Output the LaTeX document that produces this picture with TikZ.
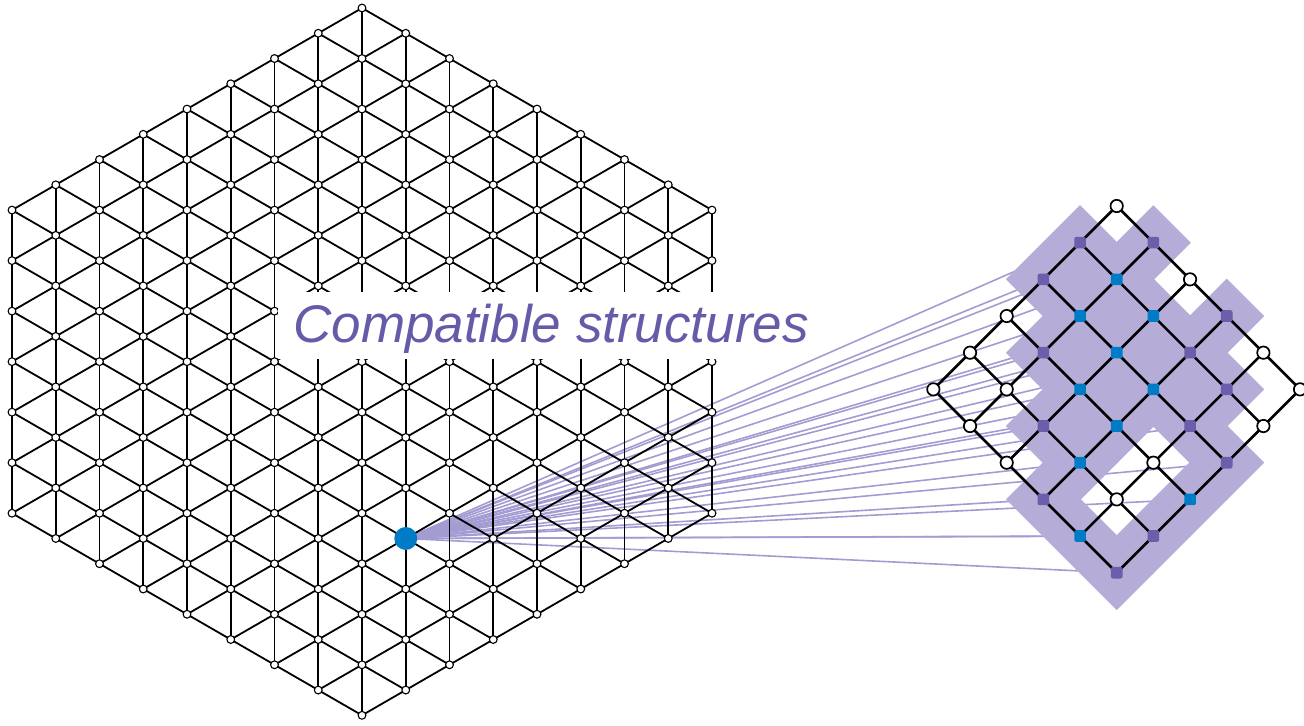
\documentclass[tikz,border=0pt]{standalone}
\usepackage{fontspec}
\setsansfont{Liberation Sans}
\usepackage{tikz}
\definecolor{lav}{RGB}{181,173,216}
\definecolor{fanline}{RGB}{163,156,211}
\definecolor{pur}{RGB}{108,94,170}
\definecolor{blu}{RGB}{0,124,198}
\definecolor{ink}{RGB}{100,92,168}

\begin{document}
\begin{tikzpicture}[
  x=0.5pt, y=-0.5pt,
  bond/.style={line width=0.9pt},
  site/.style={draw, circle, fill=white, inner sep=0pt,
               minimum size=3.9pt, line width=0.55pt},
  link/.style={line width=1.3pt},
  hole/.style={draw, circle, fill=white, inner sep=0pt,
               minimum size=6.2pt, line width=0.85pt},
  pursite/.style={rectangle, rounded corners=1pt, fill=pur,
                  inner sep=0pt, minimum size=5.8pt},
  blusite/.style={rectangle, rounded corners=1pt, fill=blu,
                  inner sep=0pt, minimum size=5.8pt},
  ray/.style={fanline, line width=0.8pt},
  hubdot/.style={circle, fill=blu, inner sep=0pt, minimum size=11.5pt},
  title/.style={font=\sffamily\itshape\fontsize{26.5}{30}\selectfont,
                text=ink, inner sep=0pt}
]
\useasboundingbox (0,0) rectangle (1304,725);

\def\colored{0/1/pursite,1/0/pursite,0/2/pursite,3/0/pursite,1/3/pursite,
  3/1/pursite,4/1/pursite,2/4/pursite,4/2/pursite,5/2/pursite,3/5/pursite,
  5/4/pursite,5/5/pursite,1/1/blusite,1/2/blusite,2/1/blusite,2/2/blusite,
  2/3/blusite,3/2/blusite,3/3/blusite,3/4/blusite,5/3/blusite,4/5/blusite}

% triangular lattice
\foreach \i in {-8,...,8}{
  \pgfmathtruncatemacro\ntop{14-abs(\i)}
  \foreach \m in {0,...,\ntop}
    \coordinate (L\i-\m) at ({362+43.75*\i},{8+25.26*abs(\i)+50.52*\m});
}
% square lattice
\foreach \u in {0,...,5}
  \foreach \v in {0,...,5}
    \coordinate (R\u-\v) at ({1116.7+36.67*(\u-\v)},{206+36.67*(\u+\v)});

\foreach \u/\v/\kind in \colored
  \draw[ray] (L1-10) -- (R\u-\v);

\foreach \u/\v/\kind in \colored
  \fill[lav] (R\u-\v) ++(0,-37.5) -- ++(37.5,37.5) -- ++(-37.5,37.5)
    -- ++(-37.5,-37.5) -- cycle;

\foreach \i in {-8,...,8}{
  \pgfmathtruncatemacro\ntop{14-abs(\i)}
  \pgfmathtruncatemacro\inext{\i+1}
  \foreach \m in {0,...,\ntop}{
    \pgfmathtruncatemacro\mnext{\m+1}
    \pgfmathtruncatemacro\mprev{\m-1}
    \ifnum\m<\ntop\relax \draw[bond] (L\i-\m) -- (L\i-\mnext); \fi
    \ifnum\i<0
      \draw[bond] (L\i-\m) -- (L\inext-\m) (L\i-\m) -- (L\inext-\mnext);
    \else\ifnum\i<8
      \ifnum\m<\ntop\relax \draw[bond] (L\i-\m) -- (L\inext-\m); \fi
      \ifnum\m>0 \draw[bond] (L\i-\m) -- (L\inext-\mprev); \fi
    \fi\fi
  }
}
\foreach \i in {-8,...,8}{
  \pgfmathtruncatemacro\ntop{14-abs(\i)}
  \foreach \m in {0,...,\ntop}
    \node[site] (S\i-\m) at (L\i-\m) {};
}

\fill[white] (278,292) rectangle (722,359);
\node[title, anchor=base west] (caption) at (293,342) {Compatible structures};

\node[hubdot] (hub) at (L1-10) {};

\foreach \u in {0,...,5}
  \foreach \v in {0,...,5}{
    \pgfmathtruncatemacro\unext{\u+1}
    \pgfmathtruncatemacro\vnext{\v+1}
    \ifnum\u<5 \draw[link] (R\u-\v) -- (R\unext-\v); \fi
    \ifnum\v<5 \draw[link] (R\u-\v) -- (R\u-\vnext); \fi
  }
\foreach \u/\v/\kind in \colored
  \node[\kind] (N\u-\v) at (R\u-\v) {};
\foreach \u/\v in {0/0,2/0,0/3,0/4,4/0,0/5,1/4,5/0,1/5,5/1,2/5,4/3,4/4}
  \node[hole] (N\u-\v) at (R\u-\v) {};
\end{tikzpicture}
\end{document}
